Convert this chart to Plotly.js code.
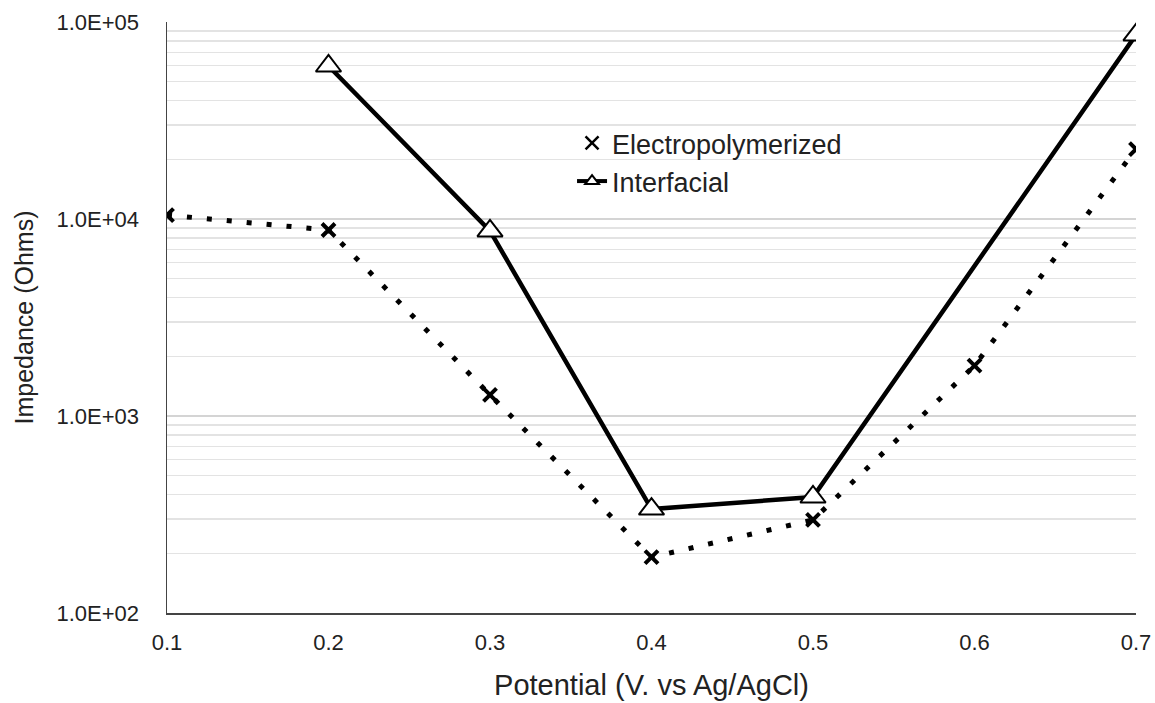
<!DOCTYPE html>
<html>
<head>
<meta charset="utf-8">
<script src="https://cdn.plot.ly/plotly-3.0.1.min.js"></script>
<style>html,body{margin:0;padding:0;background:#fff;}#chart{width:1155px;height:703px;}</style>
</head>
<body>
<div id="chart"></div>
<script>
const potential = [0.1, 0.2, 0.3, 0.4, 0.5, 0.6, 0.7];
const electroValues = [10470, 8790, 1280, 192, 297, 1800, 22650];
const interfacialPotential = [0.2, 0.3, 0.4, 0.5, 0.7];
const interfacialValues = [59800, 8700, 337, 388, 86000];
const yTickVals = [100, 1000, 10000, 100000];
const yTickText = ["1.0E+02", "1.0E+03", "1.0E+04", "1.0E+05"];
const xTickVals = [0.1, 0.2, 0.3, 0.4, 0.5, 0.6, 0.7];

const minorVals = [];
[100, 1000, 10000].forEach(d => { for (let k = 2; k <= 9; k++) minorVals.push(d * k); });

const font = "Liberation Sans, Arial, Helvetica, sans-serif";

const traces = [
  {
    x: potential, y: electroValues, name: "Electropolymerized", showlegend: false,
    mode: "lines+markers", type: "scatter",
    line: {color: "#000", width: 5, dash: "5px,15px"},
    marker: {symbol: "x-thin", size: 13, color: "#000", line: {color: "#000", width: 4}}
  },
  {
    x: interfacialPotential, y: interfacialValues, name: "Interfacial", showlegend: false,
    mode: "lines+markers", type: "scatter",
    line: {color: "#000", width: 4.5},
    marker: {symbol: "triangle-up", size: 22, color: "#fff", line: {color: "#000", width: 2}}
  },
  // legend entries only (no data)
  {x: [null], y: [null], name: "Electropolymerized", mode: "markers", type: "scatter",
   marker: {symbol: "x-thin", size: 13, color: "#000", line: {color: "#000", width: 2.5}}},
  {x: [null], y: [null], name: "Interfacial", mode: "lines+markers", type: "scatter",
   line: {color: "#000", width: 4},
   marker: {symbol: "triangle-up", size: 12, color: "#fff", line: {color: "#000", width: 2}}}
];

const layout = {
  width: 1155, height: 703,
  margin: {l: 167, r: 19, t: 22, b: 90},
  paper_bgcolor: "#fff", plot_bgcolor: "#fff",
  font: {family: font, color: "#222", size: 22},
  showlegend: true,
  legend: {x: 0.418, y: 0.836, xanchor: "left", yanchor: "top", bgcolor: "rgba(0,0,0,0)",
           font: {family: font, size: 27, color: "#222"}, tracegroupgap: 0, itemwidth: 30},
  xaxis: {
    range: [0.1, 0.7], tickmode: "array", tickvals: xTickVals, ticktext: xTickVals.map(v => v.toFixed(1)),
    showgrid: false, zeroline: false, showline: true, linecolor: "#444", linewidth: 1.5,
    ticks: "outside", ticklen: 9, tickcolor: "rgba(0,0,0,0)",
    tickfont: {family: font, size: 22, color: "#222"},
    title: {text: "Potential (V. vs Ag/AgCl)", font: {family: font, size: 29, color: "#222"}, standoff: 21}
  },
  yaxis: {
    type: "log", range: [2, 5], tickmode: "array", tickvals: yTickVals, ticktext: yTickText,
    showgrid: true, gridcolor: "#d4d4d4", gridwidth: 1.2,
    zeroline: false, showline: true, linecolor: "#444", linewidth: 1.5,
    ticks: "outside", ticklen: 22, tickcolor: "rgba(0,0,0,0)",
    tickfont: {family: font, size: 22, color: "#222"},
    minor: {tickmode: "array", tickvals: minorVals, showgrid: true, gridcolor: "#e3e3e3", gridwidth: 1.2, ticks: ""},
    title: {text: "Impedance (Ohms)", font: {family: font, size: 25, color: "#222"}, standoff: 16}
  }
};

Plotly.newPlot("chart", traces, layout, {displayModeBar: false, staticPlot: true});
</script>
</body>
</html>
